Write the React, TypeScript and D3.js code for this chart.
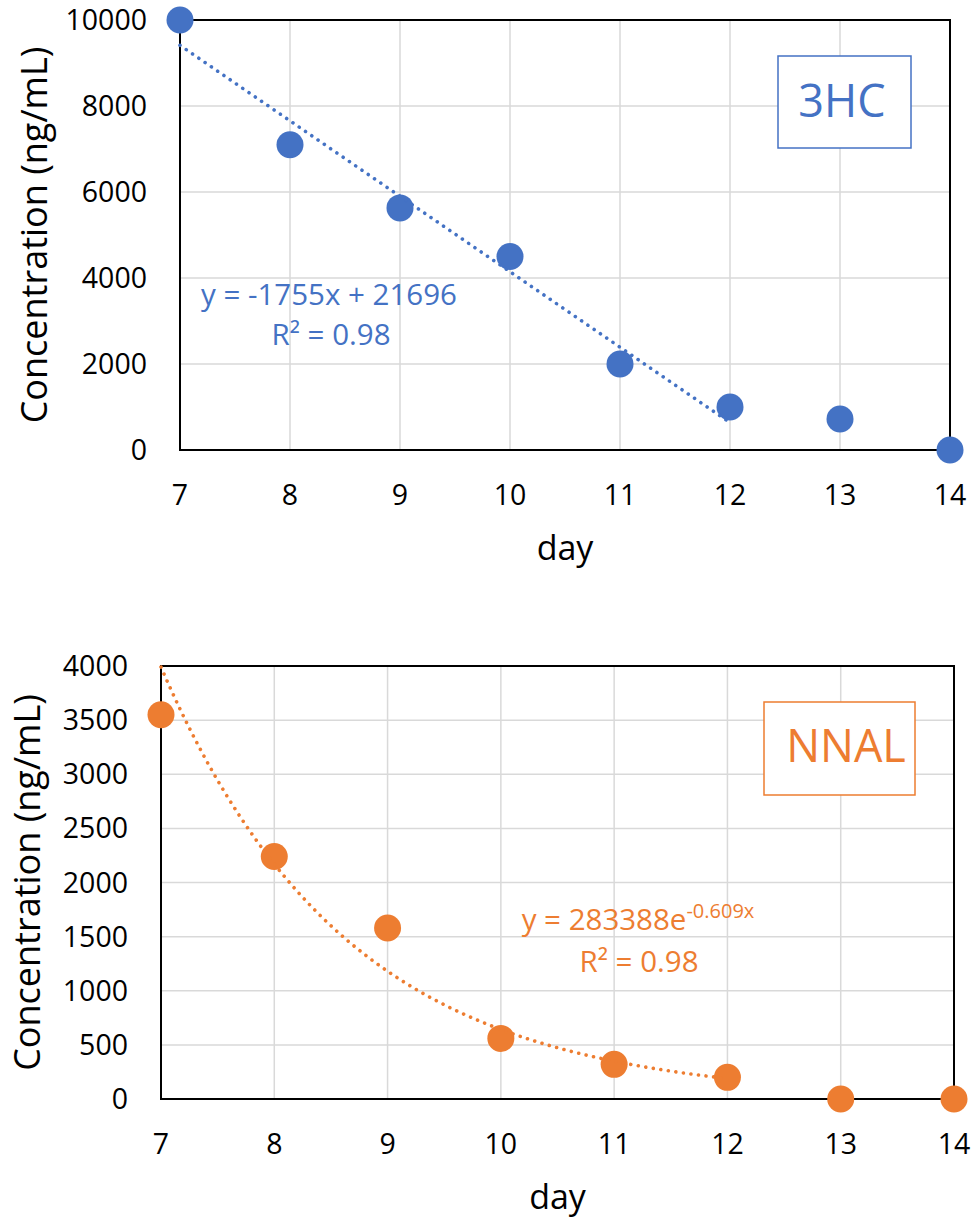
import React from "react";
import * as d3 from "d3";

// days on the x axis
const days = [7, 8, 9, 10, 11, 12, 13, 14];

// 3HC concentrations (ng/mL)
const hcValues = [10000, 7100, 5630, 4500, 2000, 1000, 720, 0];
const hcTicks = [0, 2000, 4000, 6000, 8000, 10000];
// linear trend y = -1755x + 21696, fitted on days 7..12
const hcSlope = -1755;
const hcIntercept = 21696;

// NNAL concentrations (ng/mL)
const nnalValues = [3550, 2240, 1580, 560, 320, 200, 0, 0];
const nnalTicks = [0, 500, 1000, 1500, 2000, 2500, 3000, 3500, 4000];
// exponential trend y = 283388 e^(-0.609x), fitted on days 7..12
const nnalA = 283388;
const nnalK = -0.609;

const FONT = "'Open Sans', 'Noto Sans', sans-serif";
const BLUE = "#4472C4";
const ORANGE = "#ED7D31";

type ChartProps = {
  left: number;
  right: number;
  top: number;
  bottom: number;
  values: number[];
  ticks: number[];
  color: string;
  trend: (x: number) => number;
  titleX: number;
  name: string;
  nameBox: { x: number; y: number; w: number; h: number; tx: number; ty: number };
  equation: React.ReactNode;
};

function Chart(p: ChartProps) {
  const x = d3.scaleLinear().domain([7, 14]).range([p.left, p.right]);
  const y = d3.scaleLinear().domain([0, d3.max(p.ticks)!]).range([p.bottom, p.top]);

  const trendPts = d3.range(7, 12.0001, 0.05).map((d) => [d, p.trend(d)] as [number, number]);
  const line = d3
    .line<[number, number]>()
    .x((d) => x(d[0]))
    .y((d) => y(d[1]));

  return (
    <g>
      {/* grid */}
      {days.map((d) => (
        <line key={"vx" + d} x1={x(d)} x2={x(d)} y1={p.top} y2={p.bottom} stroke="#D9D9D9" strokeWidth={1.5} />
      ))}
      {p.ticks.map((t) => (
        <line key={"hy" + t} x1={p.left} x2={p.right} y1={y(t)} y2={y(t)} stroke="#D9D9D9" strokeWidth={1.5} />
      ))}
      {/* plot border */}
      <rect x={p.left} y={p.top} width={p.right - p.left} height={p.bottom - p.top} fill="none" stroke="#000" strokeWidth={2} />

      {/* tick labels */}
      {p.ticks.map((t) => (
        <text key={"yt" + t} x={p.left - 33} y={y(t) + 10} textAnchor="end" fontSize={28.5} fontFamily={FONT} fill="#000">
          {t}
        </text>
      ))}
      {days.map((d) => (
        <text key={"xt" + d} x={x(d)} y={p.bottom + 55} textAnchor="middle" fontSize={28.5} fontFamily={FONT} fill="#000">
          {d}
        </text>
      ))}

      {/* axis titles */}
      <text
        transform={`translate(${p.titleX},${(p.top + p.bottom) / 2}) rotate(-90)`}
        textAnchor="middle"
        fontSize={36}
        fontFamily={FONT}
        fill="#000"
      >
        Concentration (ng/mL)
      </text>
      <text x={(p.left + p.right) / 2} y={p.bottom + 110} textAnchor="middle" fontSize={34} fontFamily={FONT} fill="#000">
        day
      </text>

      {/* markers */}
      {days.map((d, i) => (
        <circle key={"m" + d} cx={x(d)} cy={y(p.values[i])} r={13.5} fill={p.color} />
      ))}

      {/* trendline */}
      <path
        d={line(trendPts) || ""}
        fill="none"
        stroke={p.color}
        strokeWidth={3.6}
        strokeLinecap="round"
        strokeDasharray="0.01 7.6"
      />

      {/* equation */}
      <g fill={p.color} fontFamily={FONT} fontSize={29.5} textAnchor="middle">
        {p.equation}
      </g>

      {/* name box */}
      <rect x={p.nameBox.x} y={p.nameBox.y} width={p.nameBox.w} height={p.nameBox.h} fill="#fff" stroke={p.color} strokeWidth={1.5} />
      <text x={p.nameBox.tx} y={p.nameBox.ty} textAnchor="middle" fontSize={45} fontFamily={FONT} fill={p.color}>
        {p.name}
      </text>
    </g>
  );
}

export default function App() {
  return (
    <svg width={975} height={1222} style={{ position: "absolute", left: 0, top: 0, background: "#fff" }}>
      <rect width={975} height={1222} fill="#fff" />
      <Chart
        left={180}
        right={950}
        top={20}
        bottom={450}
        values={hcValues}
        ticks={hcTicks}
        color={BLUE}
        trend={(d) => hcSlope * d + hcIntercept}
        titleX={47}
        name="3HC"
        nameBox={{ x: 778, y: 56, w: 133, h: 92, tx: 842, ty: 117 }}
        equation={
          <>
            <text x={329} y={305}>{`y = ${hcSlope}x + ${hcIntercept}`}</text>
            <text x={331} y={345}>R² = 0.98</text>
          </>
        }
      />
      <Chart
        left={161}
        right={954}
        top={666}
        bottom={1099}
        values={nnalValues}
        ticks={nnalTicks}
        color={ORANGE}
        trend={(d) => nnalA * Math.exp(nnalK * d)}
        titleX={40}
        name="NNAL"
        nameBox={{ x: 764, y: 702, w: 151, h: 93, tx: 846, ty: 762 }}
        equation={
          <>
            <text x={638} y={930}>
              {`y = ${nnalA}e`}
              <tspan fontSize={20} dy={-12}>{`${nnalK}x`}</tspan>
            </text>
            <text x={639} y={972}>R² = 0.98</text>
          </>
        }
      />
    </svg>
  );
}
